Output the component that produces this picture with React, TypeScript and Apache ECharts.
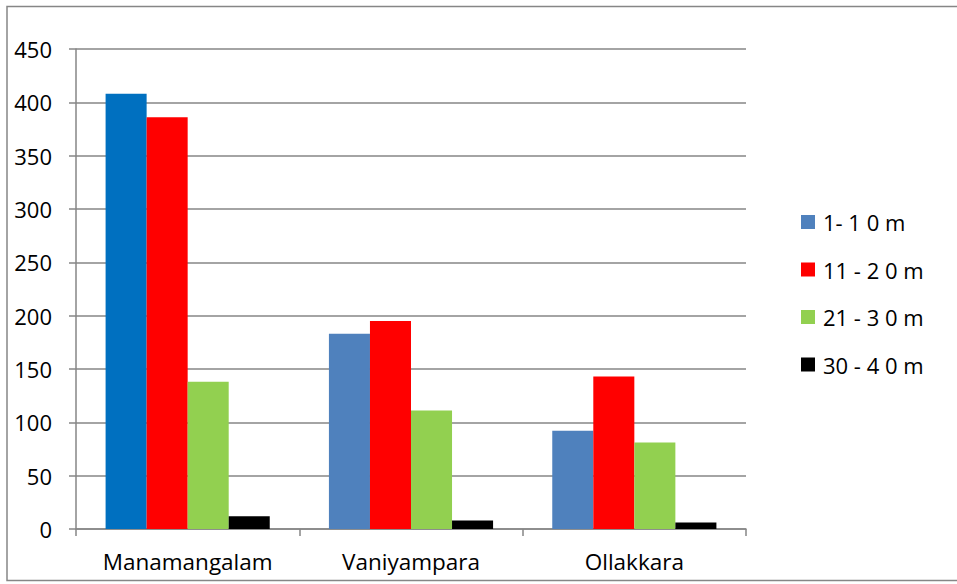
import React, { useEffect, useRef } from "react";
import * as echarts from "echarts";

const categories = ["Manamangalam", "Vaniyampara", "Ollakkara"];
const seriesNames = ["1- 1 0 m", "11 - 2 0 m", "21 - 3 0 m", "30 - 4 0 m"];
const s1 = [408, 183, 92];
const s2 = [386, 195, 143];
const s3 = [138, 111, 81];
const s4 = [12, 8, 6];
const yTicks = { min: 0, max: 450, interval: 50 };

const colors = ["#4F81BD", "#FF0000", "#92D050", "#000000"];
const firstBarColor = "#0070C0";

export default function App() {
  const ref = useRef<HTMLDivElement>(null);
  useEffect(() => {
    if (!ref.current) return;
    const chart = echarts.init(ref.current, undefined, { renderer: "svg" });
    const font = "'Open Sans', 'Liberation Sans', sans-serif";
    const data = [s1, s2, s3, s4];
    chart.setOption({
      animation: false,
      textStyle: { fontFamily: font },
      grid: { left: 76, top: 49, width: 670, height: 480, containLabel: false },
      graphic: [
        {
          type: "rect",
          shape: { x: 7, y: 6.5, width: 970, height: 574 },
          style: { fill: "none", stroke: "#868686", lineWidth: 1.5 },
          silent: true,
        },
      ],
      legend: {
        orient: "vertical",
        left: 796,
        top: 206,
        itemWidth: 14,
        itemHeight: 14,
        itemGap: 25.5,
        icon: "rect",
        data: seriesNames,
        textStyle: { fontFamily: font, fontSize: 22, color: "#000", lineHeight: 22, padding: [0, 0, 0, 3] },
      },
      xAxis: {
        type: "category",
        data: categories,
        axisLine: { lineStyle: { color: "#868686", width: 1.5 } },
        axisTick: { show: true, length: 7, lineStyle: { color: "#868686", width: 1.5 } },
        axisLabel: { fontFamily: font, fontSize: 22.5, color: "#000", margin: 21 },
      },
      yAxis: {
        type: "value",
        min: yTicks.min,
        max: yTicks.max,
        interval: yTicks.interval,
        axisLine: { show: true, lineStyle: { color: "#868686", width: 1.5 } },
        axisTick: { show: true, length: 7, lineStyle: { color: "#868686", width: 1.5 } },
        splitLine: { show: true, lineStyle: { color: "#868686", width: 1.5 } },
        axisLabel: { fontFamily: font, fontSize: 22, color: "#000", margin: 24 },
      },
      series: seriesNames.map((name, i) => ({
        name,
        type: "bar",
        barGap: "0%",
        barCategoryGap: "26.5%",
        itemStyle: { color: colors[i] },
        data: data[i].map((v, j) =>
          i === 0 && j === 0 ? { value: v, itemStyle: { color: firstBarColor } } : v
        ),
      })),
    });
    return () => chart.dispose();
  }, []);
  return (
    <div
      ref={ref}
      style={{ position: "absolute", left: 0, top: 0, width: 957, height: 584, background: "#fff" }}
    />
  );
}
